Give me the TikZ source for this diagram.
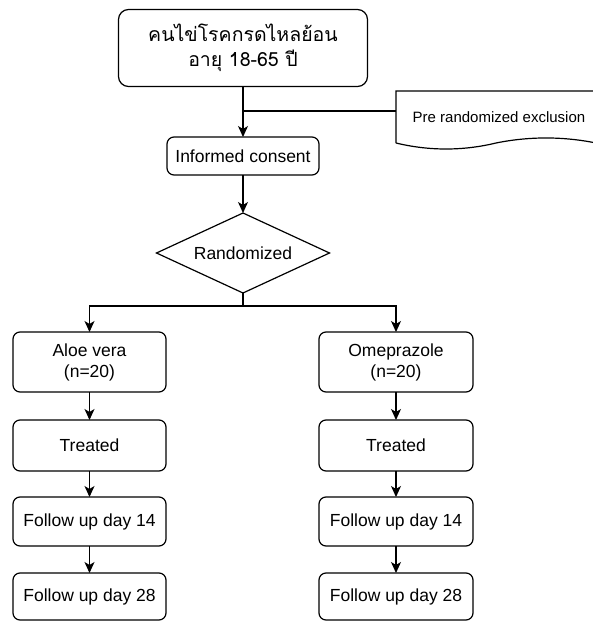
\documentclass[tikz,border=0pt]{standalone}
\usepackage{fontspec}
\setmainfont{Liberation Sans}
\newfontfamily\thaifont[Script=Thai]{Loma}
\usetikzlibrary{arrows.meta,shapes.geometric}
\begin{document}
\begin{tikzpicture}[x=1pt,y=-1pt,
  line width=1.2pt,
  every node/.style={inner sep=0pt, outer sep=0pt, align=center, font=\fontsize{17.5}{21}\selectfont},
  box/.style={draw, rounded corners=7pt, line width=1.2pt},
  arr/.style={-{Stealth[length=11pt,width=10pt,inset=3pt]}, line width=1.2pt},
  ln/.style={line width=1.2pt}]
\useasboundingbox (0,0) rectangle (592,623);
\fill[white] (0,0) rectangle (592,623);

\node[box, rounded corners=10pt, minimum width=249pt, minimum height=77pt,
  font=\thaifont\fontsize{19.5}{25}\selectfont] (top) at (243,48)
  {คนไข่โรคกรดไหลย้อน\\อายุ 18-65 ปี};
\node[box, minimum width=152pt, minimum height=38pt] (ic) at (243,156) {Informed consent};
\node[draw, diamond, minimum width=173pt, minimum height=80pt, line width=1.2pt] (rand) at (243,253) {};
\node at (243,253) {Randomized};

\node[box, minimum width=153pt, minimum height=60pt] (a1) at (89.5,362) {Aloe vera\\(n=20)};
\node[box, minimum width=153pt, minimum height=51pt] (a2) at (89.5,445.5) {Treated};
\node[box, minimum width=153pt, minimum height=49pt] (a3) at (89.5,521.5) {Follow up day 14};
\node[box, minimum width=153pt, minimum height=47pt] (a4) at (89.5,596.5) {Follow up day 28};

\node[box, minimum width=154pt, minimum height=60pt] (b1) at (396,362) {Omeprazole\\(n=20)};
\node[box, minimum width=154pt, minimum height=51pt] (b2) at (396,445.5) {Treated};
\node[box, minimum width=154pt, minimum height=49pt] (b3) at (396,521.5) {Follow up day 14};
\node[box, minimum width=154pt, minimum height=47pt] (b4) at (396,596.5) {Follow up day 28};

% exclusion document shape
\node[minimum width=200pt, minimum height=52pt] (ex) at (496,117) {};
\draw[ln] (ex.south west) -- (ex.north west) -- (ex.north east) -- (ex.south east)
  .. controls (563,136.3) and (529,136.3) .. (ex.south)
  .. controls (463,151) and (429,151) .. (ex.south west);
\node[font=\fontsize{15}{18}\selectfont] (extext) at (499,117) {Pre randomized exclusion};

% connectors
\coordinate (j1) at (243,111);
\draw[arr] (top.south) -- (ic.north);
\draw[ln] (j1) -- (ex.west |- j1);
\draw[arr] (ic.south) -- (rand.north);
\coordinate (j2) at (243,306);
\draw[ln] (rand.south) -- (j2);
\draw[arr] (j2) -| (a1.north);
\draw[arr] (j2) -| (b1.north);
\draw[arr] (a1) -- (a2);
\draw[arr] (a2) -- (a3);
\draw[arr] (a3) -- (a4);
\draw[arr] (b1) -- (b2);
\draw[arr] (b2) -- (b3);
\draw[arr] (b3) -- (b4);
\end{tikzpicture}
\end{document}
